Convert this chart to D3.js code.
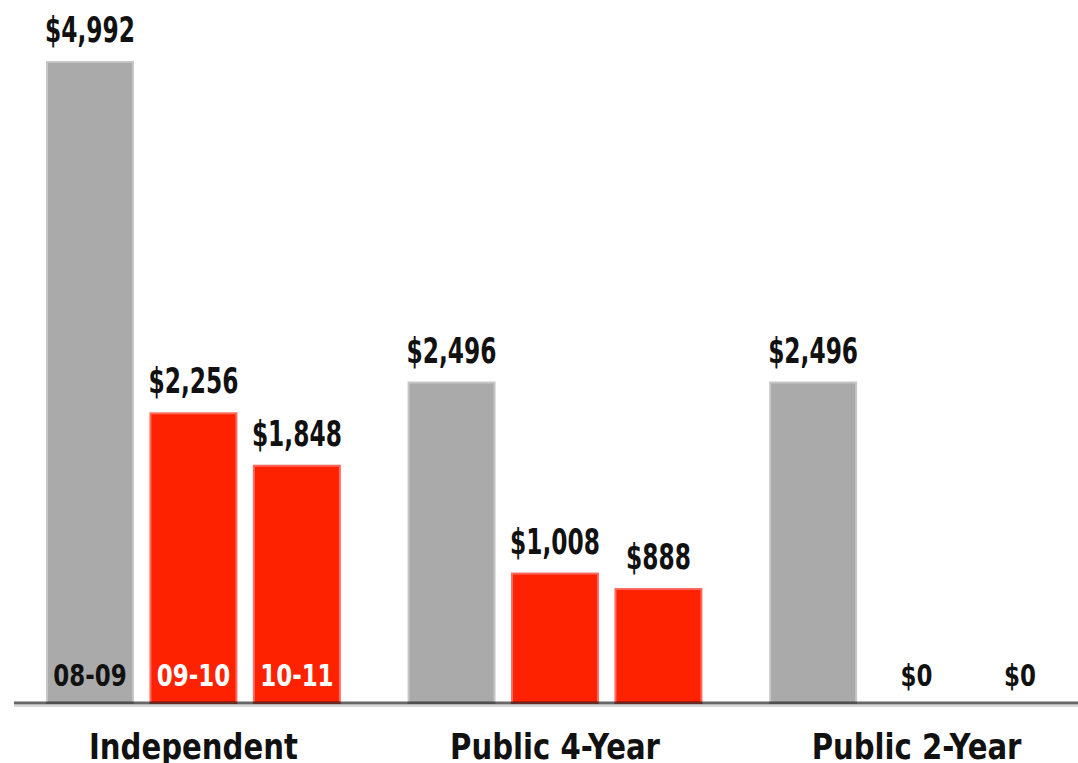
<!DOCTYPE html>
<html>
<head>
<meta charset="utf-8">
<script src="https://cdn.jsdelivr.net/npm/d3@7"></script>
<style>
  body { margin: 0; background: #fff; }
  text { font-family: "DejaVu Sans Condensed", "Liberation Sans Narrow", Lato, sans-serif; font-weight: bold; }
</style>
</head>
<body>
<div id="chart"></div>
<script>
// categories and series
const categories = ["Independent", "Public 4-Year", "Public 2-Year"];
const years = ["08-09", "09-10", "10-11"];
const independent = [4992, 2256, 1848];
const public4 = [2496, 1008, 888];
const public2 = [2496, 0, 0];
const series = [independent, public4, public2];

var width = 1078
var height = 763
var baseY = 703

var svg = d3.select("#chart")
  .append("svg")
    .attr("width", width)
    .attr("height", height)

var x0 = d3.scaleBand().domain(categories).range([47, 1063]).paddingInner(0.19).paddingOuter(0)
var x1 = d3.scaleBand().domain(years).range([0, x0.bandwidth()]).paddingInner(0.169).paddingOuter(0)
var y = d3.scaleLinear().domain([0, 4992]).range([baseY, 62])

var color = d3.scaleOrdinal().domain(years).range(["#aaaaaa", "#ff2200", "#ff2200"])
var edge = d3.scaleOrdinal().domain(years).range(["#c6c6c6", "#ff6a5e", "#ff6a5e"])

// flatten rows for drawing
var rows = []
categories.forEach(function(c, i) {
  years.forEach(function(yr, j) {
    rows.push({cat: c, year: yr, value: series[i][j], first: i == 0})
  })
})

var g = svg.append("g")

var bar = g.selectAll(".bar")
  .data(rows)
  .enter()
  .append("g")
    .attr("transform", function(d) { return "translate(" + (x0(d.cat) + x1(d.year)) + ",0)"; })

bar.filter(function(d) { return d.value > 0; })
  .append("rect")
    .attr("y", function(d) { return y(d.value); })
    .attr("width", x1.bandwidth())
    .attr("height", function(d) { return baseY - y(d.value); })
    .attr("fill", function(d) { return color(d.year); })
    .attr("stroke", function(d) { return edge(d.year); })
    .attr("stroke-width", 2)

// value labels above bars (narrow, tall type)
bar.filter(function(d) { return d.value > 0; })
  .append("text")
    .attr("transform", function(d) { return "translate(" + (x1.bandwidth() / 2) + "," + (y(d.value) - 20) + ") scale(0.72,1)"; })
    .attr("text-anchor", "middle")
    .style("font-size", "36px")
    .attr("fill", "#111")
    .text(function(d) { return "$" + d3.format(",")(d.value); })

// $0 labels sit on the baseline
bar.filter(function(d) { return d.value == 0; })
  .append("text")
    .attr("transform", "translate(" + (x1.bandwidth() / 2) + ",686) scale(0.85,1)")
    .attr("text-anchor", "middle")
    .style("font-size", "30px")
    .attr("fill", "#111")
    .text("$0")

// year labels inside the first group
bar.filter(function(d) { return d.first; })
  .append("text")
    .attr("transform", "translate(" + (x1.bandwidth() / 2) + ",686) scale(0.85,1)")
    .attr("text-anchor", "middle")
    .style("font-size", "30px")
    .attr("fill", function(d) { return d.year == "08-09" ? "#111" : "#fff"; })
    .text(function(d) { return d.year; })

// baseline
svg.append("line")
  .attr("x1", 14).attr("x2", width)
  .attr("y1", baseY).attr("y2", baseY)
  .attr("stroke", "#000").attr("stroke-opacity", 0.6).attr("stroke-width", 3)
svg.append("line")
  .attr("x1", 14).attr("x2", width)
  .attr("y1", baseY + 3).attr("y2", baseY + 3)
  .attr("stroke", "#ccc").attr("stroke-width", 1.5)

// category labels
svg.selectAll(".cat")
  .data(categories)
  .enter()
  .append("text")
    .attr("class", "cat")
    .attr("transform", function(d) { return "translate(" + (x0(d) + x0.bandwidth() / 2) + ",759) scale(0.9,1)"; })
    .attr("text-anchor", "middle")
    .style("font-size", "36px")
    .attr("fill", "#111")
    .text(function(d) { return d; })
</script>
</body>
</html>
